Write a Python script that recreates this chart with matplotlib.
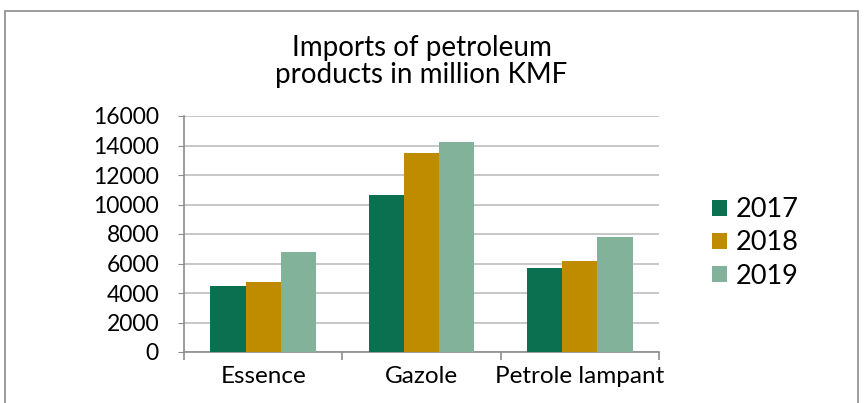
import matplotlib
matplotlib.use("Agg")
import matplotlib.pyplot as plt
import numpy as np
from matplotlib.patches import Rectangle

categories = ["Essence", "Gazole", "Petrole lampant"]
years = ["2017", "2018", "2019"]
v2017 = [4500, 10650, 5700]
v2018 = [4760, 13500, 6200]
v2019 = [6800, 14250, 7800]
colors = ["#0A7050", "#BF8C00", "#82B29A"]
yticks = [0, 2000, 4000, 6000, 8000, 10000, 12000, 14000, 16000]

plt.rcParams['font.family'] = ['Lato', 'DejaVu Sans']

fig = plt.figure(figsize=(8.64, 4.03), dpi=100)
fig.patches.append(Rectangle((5/864, -0.01), 853/864, 1 - 11/403 + 0.01,
                             transform=fig.transFigure, fill=False,
                             edgecolor="#8C8C8C", linewidth=1.2))
ax = fig.add_axes([184/864, 1 - 352/403, 475/864, 236/403])

x = np.arange(len(categories))
w = 0.222
for i, (vals, yr) in enumerate(zip([v2017, v2018, v2019], years)):
    ax.bar(x + (i - 1) * w, vals, width=w, color=colors[i], label=yr, zorder=3)

ax.set_xlim(-0.5, 2.5)
ax.set_ylim(0, 16000)
ax.set_yticks(yticks)
ax.set_yticklabels([str(t) for t in yticks], fontsize=16.5)
ax.yaxis.grid(True, color="#BDBDBD", linewidth=1.2, zorder=0)
ax.tick_params(axis='y', length=4, color="#8C8C8C", pad=14, labelcolor="black")

ax.set_xticks(x)
ax.set_xticklabels(categories, fontsize=17.5)
ax.tick_params(axis='x', which='major', length=0, pad=10)
ax.set_xticks([-0.5, 0.5, 1.5, 2.5], minor=True)
ax.tick_params(axis='x', which='minor', length=6, color="#8C8C8C", width=1.2)

for s in ["top", "right"]:
    ax.spines[s].set_visible(False)
for s in ["left", "bottom"]:
    ax.spines[s].set_color("#8C8C8C")
    ax.spines[s].set_linewidth(1.2)

ax.set_title("Imports of petroleum\nproducts in million KMF", fontsize=20,
             pad=24, linespacing=1.05)

leg = fig.legend(loc="center left", bbox_to_anchor=(688/864, 1 - 243/403),
                 frameon=False, fontsize=19.5, handlelength=0.55, handleheight=0.55,
                 handletextpad=0.3, labelspacing=0.3)

fig.savefig("out.png", dpi=100)
